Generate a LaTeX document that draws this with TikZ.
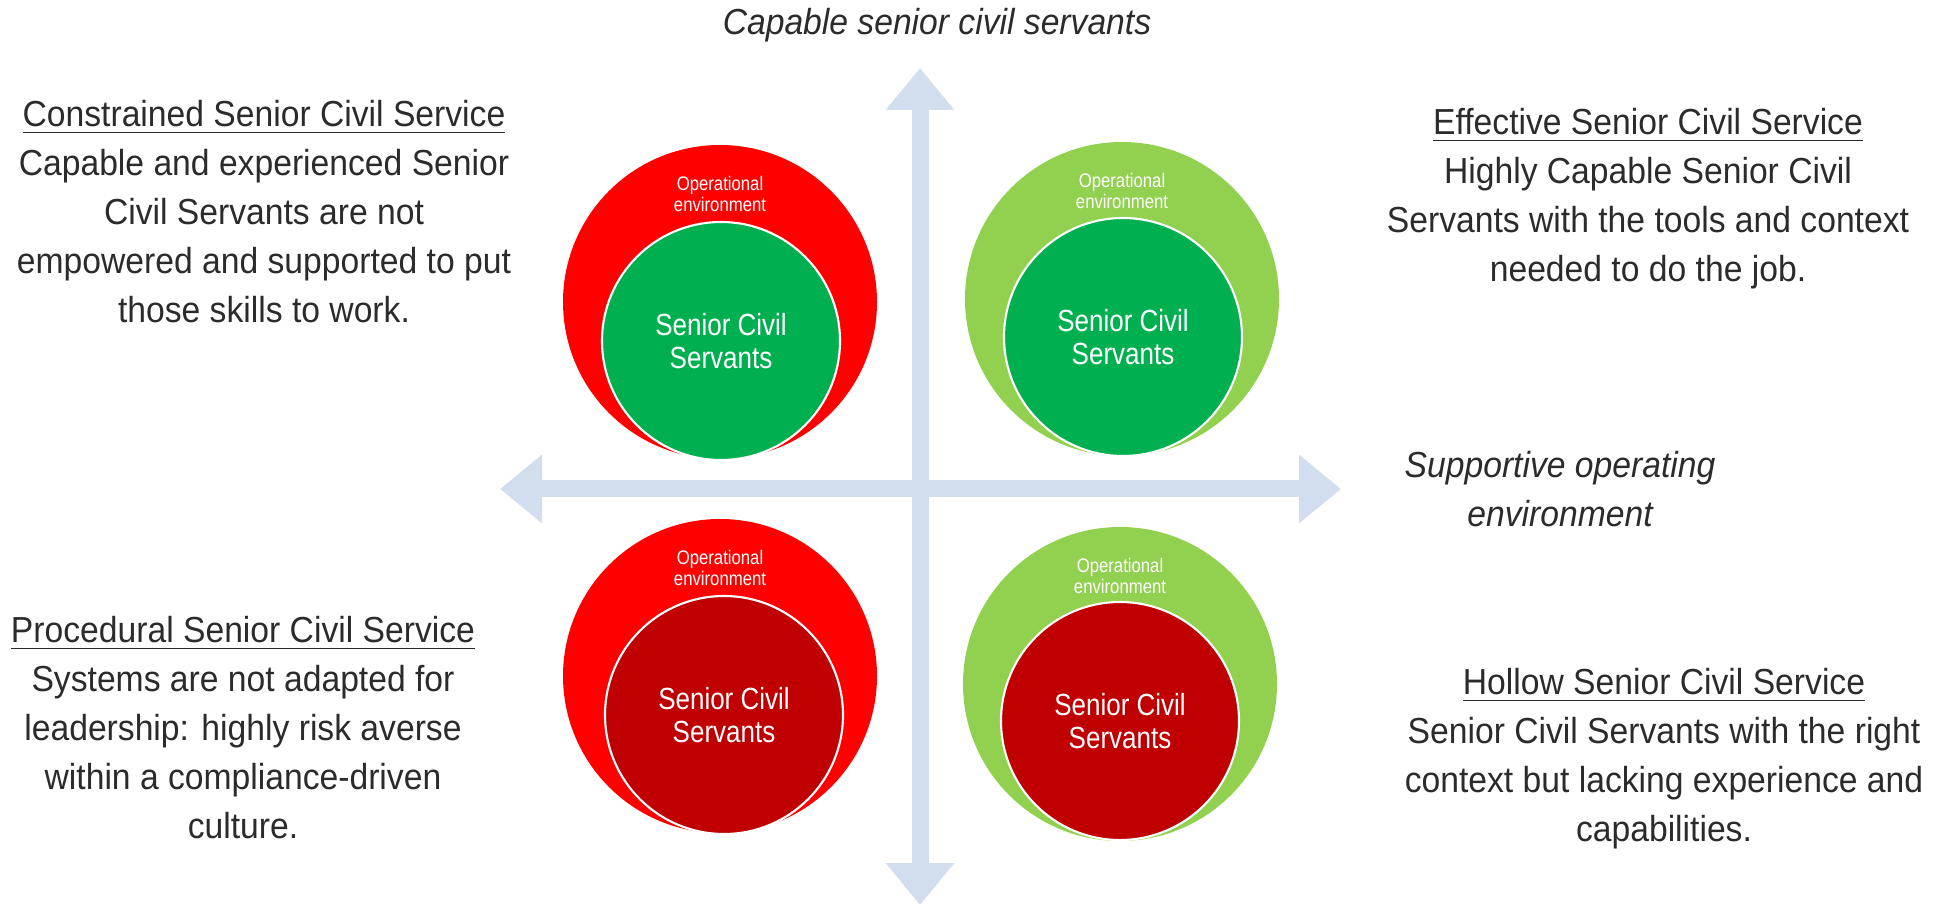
\documentclass[tikz,border=0pt]{standalone}
\usepackage{fontspec}
\setmainfont{Liberation Sans}[FakeStretch=0.93]
\newfontfamily\circfont{Liberation Sans}[FakeStretch=0.85]
\usetikzlibrary{arrows.meta,calc,positioning}

%Colours
\definecolor{envred}{HTML}{FF0000}
\definecolor{envgreen}{HTML}{92D050}
\definecolor{scsgreen}{HTML}{00B050}
\definecolor{scsred}{HTML}{C00000}
\definecolor{axisblue}{HTML}{D2DEEE}
\definecolor{txtgray}{HTML}{2B2B2B}

\tikzset{
  env/.style={circle, minimum size=31.4mm, inner sep=0pt},
  scs/.style={circle, minimum size=23.8mm, inner sep=0pt, draw=white, line width=0.6pt,
    text=white, align=center, font=\circfont\fontsize{8.7}{9.4}\selectfont},
  envlabel/.style={text=white, align=center, inner sep=0pt,
    font=\circfont\fontsize{5.6}{6.2}\selectfont},
  desc/.style={anchor=north, align=center, inner sep=0pt, text=txtgray,
    font=\fontsize{10.3}{13.9}\selectfont},
  axislabel/.style={anchor=north, align=center, inner sep=0pt, text=txtgray,
    font=\itshape\fontsize{10.3}{13.9}\selectfont},
  quadaxis/.style={draw=axisblue, line width=1.7mm,
    {Triangle[width=6.6mm,length=4.2mm]}-{Triangle[width=6.6mm,length=4.2mm]}}
}

\begin{document}
\begin{tikzpicture}[x=0.1mm,y=-0.1mm]
\useasboundingbox (0,0) rectangle (1941,906);

%Axes
\coordinate (N) at (920,68);
\coordinate (S) at (920,905);
\coordinate (W) at (500,489);
\coordinate (E) at (1341,489);
\draw[quadaxis] (W) -- (E);
\draw[quadaxis] (S) -- (N);

%Axis labels
\node[axislabel] (capable) at (937,8) {Capable senior civil servants};
\node[axislabel] (supportive) at (1560,451) {Supportive operating\\environment};

%Top left circles
\node[env, fill=envred] (tlenv) at (720,302) {};
\node[scs, fill=scsgreen] (tlscs) at (721,341) {Senior Civil\\Servants};
\node[envlabel] (tlop) at ($(tlenv)+(0,-108)$) {Operational\\environment};

%Top right circles
\node[env, fill=envgreen] (trenv) at (1122,299) {};
\node[scs, fill=scsgreen] (trscs) at (1123,337) {Senior Civil\\Servants};
\node[envlabel] (trop) at ($(trenv)+(0,-108)$) {Operational\\environment};

%Bottom left circles
\node[env, fill=envred] (blenv) at (720,676) {};
\node[scs, fill=scsred] (blscs) at (724,715) {Senior Civil\\Servants};
\node[envlabel] (blop) at ($(blenv)+(0,-108)$) {Operational\\environment};

%Bottom right circles
\node[env, fill=envgreen] (brenv) at (1120,684) {};
\node[scs, fill=scsred] (brscs) at (1120,721) {Senior Civil\\Servants};
\node[envlabel] (brop) at ($(brenv)+(0,-108)$) {Operational\\environment};

%Quadrant descriptions
\node[desc] (tltxt) at (264,100) {\underline{Constrained Senior Civil Service}\\Capable and experienced Senior\\Civil Servants are not\\empowered and supported to put\\those skills to work.};
\node[desc] (trtxt) at (1648,108) {\underline{Effective Senior Civil Service}\\Highly Capable Senior Civil\\Servants with the tools and context\\needed to do the job.};
\node[desc] (bltxt) at (243,616) {\underline{Procedural Senior Civil Service}\\Systems are not adapted for\\leadership: highly risk averse\\within a compliance-driven\\culture.};
\node[desc] (brtxt) at (1664,668) {\underline{Hollow Senior Civil Service}\\Senior Civil Servants with the right\\context but lacking experience and\\capabilities.};
\end{tikzpicture}
\end{document}
